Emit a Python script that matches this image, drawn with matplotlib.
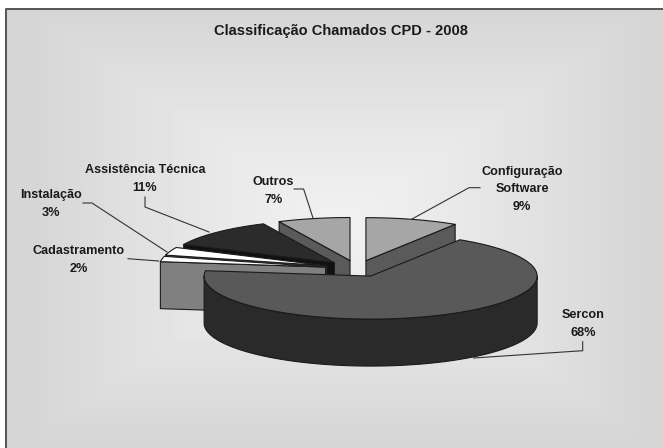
#!/usr/bin/env python3
"""Classificação Chamados CPD - 2008, exploded 3D style pie drawn in pixel space."""

import matplotlib
matplotlib.use("Agg")
import matplotlib.pyplot as plt
import numpy as np
from matplotlib.patches import Polygon

TITLE = "Classificação Chamados CPD - 2008"
# clockwise from 12 o'clock
categories = ["Configuração\nSoftware", "Sercon", "Cadastramento", "Instalação",
              "Assistência Técnica", "Outros"]
values = [9, 68, 2, 3, 11, 7]

top_colors = ["#a6a6a6", "#595959", "#ffffff", "#ffffff", "#2b2b2b", "#a6a6a6"]
side_colors = ["#5a5a5a", "#2a2a2a", "#808080", "#555555", "#111111", "#5a5a5a"]

# label centre (x, y) in pixels, then leader elbow points
label_pos = [(522, 189.5), (583, 324), (79, 260), (51, 204), (145, 179), (273.5, 191)]
leaders = [
    [(469, 187.7), (480, 187.7)],
    [(582.7, 350.7), (582.7, 341.7)],
    [(128, 258.7)],
    [(92, 203), (83, 203)],
    [(145, 207), (145, 197)],
    [(303.6, 189), (294, 189)],
]
leader_starts = [(412, 219), (473.6, 358), (158.6, 261), (167, 252), (209, 232), (313, 218)]

CX, CY = 357.0, 268.6
RX, RY = 166.5, 43.0
DEPTH = 47.0
EXPLODE = 32.0
EDGE = "#1a1a1a"


def arc_points(x0, y0, a0, a1, n=80):
    t = np.radians(np.linspace(a0, a1, n))
    return np.column_stack([x0 + RX * np.cos(t), y0 - RY * np.sin(t)])


def draw_slice(ax, lo, hi, top_color, side_color):
    """One wedge between angles lo < hi (degrees, counter-clockwise)."""
    mid = np.radians((lo + hi) / 2)
    x0 = CX + EXPLODE * np.cos(mid)
    y0 = CY - EXPLODE * RY / RX * np.sin(mid)
    style = dict(edgecolor=EDGE, linewidth=0.8, joinstyle="round")

    # cut faces that look towards the viewer
    for angle, normal in ((lo, lo - 90), (hi, hi + 90)):
        if np.sin(np.radians(normal)) < -1e-6:
            a = np.radians(angle)
            xo, yo = x0 + RX * np.cos(a), y0 - RY * np.sin(a)
            pts = [(x0, y0), (xo, yo), (xo, yo + DEPTH), (x0, y0 + DEPTH)]
            ax.add_patch(Polygon(pts, facecolor=side_color, **style))

    # outer rim, front half of the ellipse only
    for start in (-360, 0, 360):
        a0, a1 = max(lo, start - 180), min(hi, start)
        if a1 > a0:
            rim = arc_points(x0, y0, a0, a1)
            low = rim[::-1] + [0, DEPTH]
            ax.add_patch(Polygon(np.vstack([rim, low]), facecolor=side_color, **style))

    top = np.vstack([[(x0, y0)], arc_points(x0, y0, lo, hi)])
    ax.add_patch(Polygon(top, facecolor=top_color, **style))


def main() -> None:
    plt.rcParams["font.family"] = ["Liberation Sans", "DejaVu Sans"]
    fig = plt.figure(figsize=(6.63, 4.48), dpi=100, facecolor="white")
    ax = fig.add_axes([0, 0, 1, 1])

    # panel background, lighter towards the middle
    yy, xx = np.mgrid[9:448, 6:663]
    d = np.maximum(np.abs(xx - 338) / 300.0, np.abs(yy - 225) / 210.0)
    shade = 240 - 26 * np.clip(d, 0, 1) ** 1.3
    ax.imshow(shade, cmap="gray", vmin=0, vmax=255, extent=(6, 663, 448, 9),
              aspect="auto", interpolation="bilinear", zorder=0)
    ax.plot([663, 6, 6], [9, 9, 448], color="#555555", lw=1.4, zorder=1)

    # slice angles from the values
    spans = np.array(values) * 3.6
    hi = 90 - np.concatenate([[0], np.cumsum(spans)[:-1]])
    lo = hi - spans

    # back to front
    for i in (5, 0, 4, 3, 2, 1):
        draw_slice(ax, lo[i], hi[i], top_colors[i], side_colors[i])

    for name, val, pos, start, elbows in zip(categories, values, label_pos,
                                             leader_starts, leaders):
        pts = np.array([start] + elbows)
        ax.plot(pts[:, 0], pts[:, 1], color="#333333", lw=0.8, zorder=5)
        ax.text(pos[0], pos[1], f"{name}\n{val}%", ha="center", va="center",
                fontsize=9.1, fontweight="bold", color="#1a1a1a",
                linespacing=1.6, zorder=6)

    ax.text(341, 31.5, TITLE, ha="center", va="center", fontsize=10.5,
            fontweight="bold", color="#1a1a1a")

    ax.set_xlim(0, 663)
    ax.set_ylim(448, 0)
    ax.axis("off")
    fig.savefig("out.png", dpi=100, facecolor="white")
    plt.close(fig)


if __name__ == "__main__":
    main()
